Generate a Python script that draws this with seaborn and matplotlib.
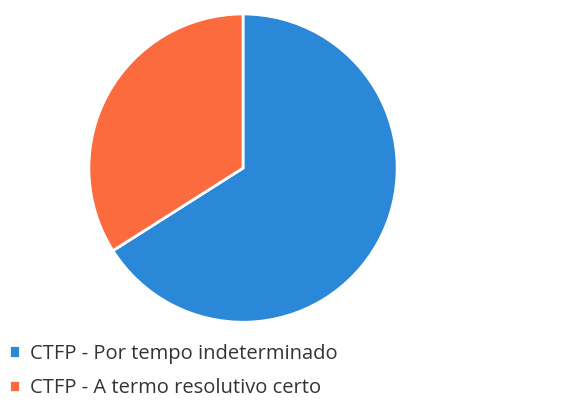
import matplotlib
matplotlib.use("Agg")
import matplotlib.pyplot as plt
import seaborn as sns

labels = ["CTFP - Por tempo indeterminado", "CTFP - A termo resolutivo certo"]
values = [66, 34]
colors = ["#2b88d8", "#fb6b3d"]

sns.set_theme(style="white")
plt.rcParams['font.family'] = ['Open Sans', 'DejaVu Sans']

fig = plt.figure(figsize=(5.66, 4.12), dpi=100)
ax = fig.add_axes([0.1555, 0.216, 0.5477, 0.752])
wedges, _ = ax.pie(values, colors=colors, startangle=90, counterclock=False,
                   wedgeprops=dict(edgecolor="white", linewidth=2))
ax.set_aspect("equal")
ax.set_xlim(-1.005, 1.005)
ax.set_ylim(-1.005, 1.005)

fig.legend(wedges, labels, loc="upper left", bbox_to_anchor=(-0.017, 0.21),
           frameon=False, fontsize=14.5, handlelength=0.55, handleheight=0.55,
           handletextpad=0.5, labelspacing=0.7, labelcolor="#333333")

fig.savefig("out.png", dpi=100)
